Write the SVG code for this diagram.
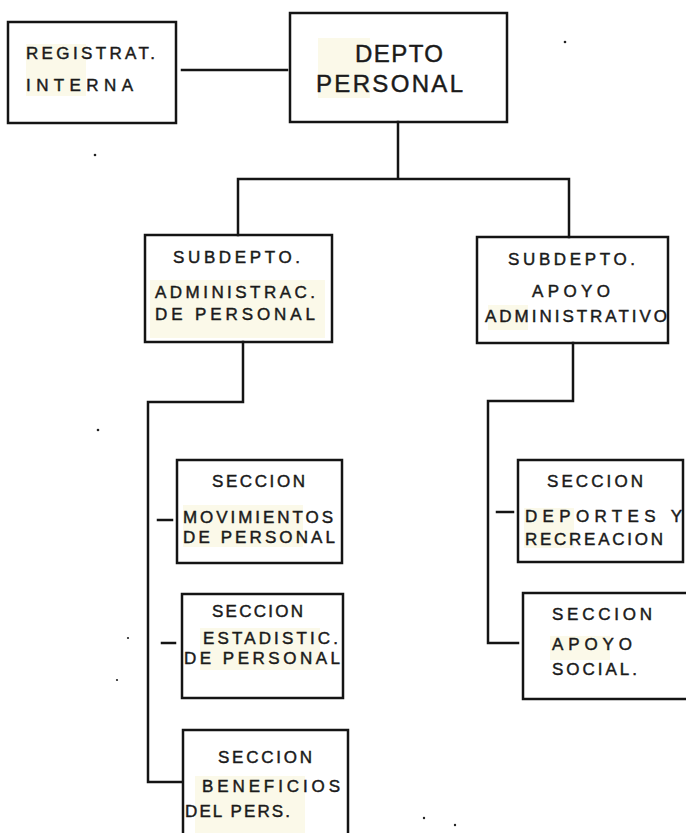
<svg xmlns="http://www.w3.org/2000/svg" width="686" height="833" viewBox="0 0 686 833">
  <style>
    .box { fill: none; stroke: #141414; stroke-width: 2.5; }
    .wire { fill: none; stroke: #141414; stroke-width: 2.5; stroke-linecap: square; }
    .t { font-family: "Liberation Sans", Arial, sans-serif; font-size: 17px; font-weight: normal; fill: #1a1a1a; stroke: #1a1a1a; stroke-width: 0.45; }
    .big { font-size: 24px; }
    .hl { fill: #f7f2cf; opacity: 0.45; }
    .speck { fill: #222; }
  </style>
  <rect width="686" height="833" fill="#ffffff"/>

  <!-- faint marker tint behind parts of the lettering -->
  <g id="tint">
    <rect class="hl" x="26" y="44" width="60" height="52"/>
    <rect class="hl" x="318" y="38" width="52" height="60"/>
    <rect class="hl" x="150" y="280" width="175" height="58"/>
    <rect class="hl" x="488" y="305" width="40" height="25"/>
    <rect class="hl" x="183" y="505" width="120" height="42"/>
    <rect class="hl" x="200" y="628" width="120" height="42"/>
    <rect class="hl" x="195" y="776" width="110" height="57"/>
    <rect class="hl" x="524" y="508" width="50" height="40"/>
    <rect class="hl" x="550" y="636" width="60" height="24"/>
  </g>

  <!-- connectors -->
  <g id="connectors">
    <path class="wire" d="M182 70 H287"/>
    <path class="wire" d="M398 122 V179 M238 179 H569 M238 179 V235 M569 179 V237"/>
    <path class="wire" d="M243 342 V402 H148 V782 H182"/>
    <path class="wire" d="M158 520 H172 M162 643 H175"/>
    <path class="wire" d="M573 343 V401 H488 V643 H518"/>
    <path class="wire" d="M497 512 H513"/>
  </g>

  <g id="registrat">
    <rect class="box" x="8" y="22" width="168" height="101"/>
    <text class="t" x="26" y="59" textLength="129" lengthAdjust="spacing">REGISTRAT.</text>
    <text class="t" x="26" y="91" textLength="107" lengthAdjust="spacing">INTERNA</text>
  </g>

  <g id="depto">
    <rect class="box" x="290" y="13" width="217" height="109"/>
    <text class="t big" x="355" y="62" textLength="88" lengthAdjust="spacing">DEPTO</text>
    <text class="t big" x="316" y="92" textLength="147" lengthAdjust="spacing">PERSONAL</text>
  </g>

  <g id="subdepto-admin">
    <rect class="box" x="145" y="235" width="187" height="107"/>
    <text class="t" x="173" y="263" textLength="127" lengthAdjust="spacing">SUBDEPTO.</text>
    <text class="t" x="155" y="298" textLength="160" lengthAdjust="spacing">ADMINISTRAC.</text>
    <text class="t" x="155" y="320" textLength="160" lengthAdjust="spacing">DE PERSONAL</text>
  </g>

  <g id="subdepto-apoyo">
    <rect class="box" x="477" y="237" width="191" height="106"/>
    <text class="t" x="508" y="265" textLength="127" lengthAdjust="spacing">SUBDEPTO.</text>
    <text class="t" x="532" y="297" textLength="78" lengthAdjust="spacing">APOYO</text>
    <text class="t" x="485" y="322" textLength="182" lengthAdjust="spacing">ADMINISTRATIVO</text>
  </g>

  <g id="sec-movimientos">
    <rect class="box" x="177" y="460" width="165" height="103"/>
    <text class="t" x="212" y="487" textLength="93" lengthAdjust="spacing">SECCION</text>
    <text class="t" x="183" y="523" textLength="150" lengthAdjust="spacing">MOVIMIENTOS</text>
    <text class="t" x="183" y="543" textLength="152" lengthAdjust="spacing">DE PERSONAL</text>
  </g>

  <g id="sec-estadistic">
    <rect class="box" x="182" y="594" width="161" height="104"/>
    <text class="t" x="212" y="617" textLength="91" lengthAdjust="spacing">SECCION</text>
    <text class="t" x="203" y="644" textLength="135" lengthAdjust="spacing">ESTADISTIC.</text>
    <text class="t" x="184" y="664" textLength="156" lengthAdjust="spacing">DE PERSONAL</text>
  </g>

  <g id="sec-beneficios">
    <path class="box" d="M183 840 V730 H348 V840"/>
    <text class="t" x="218" y="763" textLength="94" lengthAdjust="spacing">SECCION</text>
    <text class="t" x="202" y="792" textLength="138" lengthAdjust="spacing">BENEFICIOS</text>
    <text class="t" x="185" y="817" textLength="105" lengthAdjust="spacing">DEL PERS.</text>
  </g>

  <g id="sec-deportes">
    <rect class="box" x="518" y="460" width="165" height="102"/>
    <text class="t" x="547" y="487" textLength="96" lengthAdjust="spacing">SECCION</text>
    <text class="t" x="525" y="522" textLength="157" lengthAdjust="spacing">DEPORTES Y</text>
    <text class="t" x="525" y="545" textLength="138" lengthAdjust="spacing">RECREACION</text>
  </g>

  <g id="sec-apoyo-social">
    <path class="box" d="M690 593 H523 V699 H690"/>
    <text class="t" x="552" y="620" textLength="100" lengthAdjust="spacing">SECCION</text>
    <text class="t" x="552" y="650" textLength="80" lengthAdjust="spacing">APOYO</text>
    <text class="t" x="552" y="675" textLength="85" lengthAdjust="spacing">SOCIAL.</text>
  </g>

  <!-- stray specks -->
  <g id="specks">
    <circle class="speck" cx="95" cy="155" r="1.3"/>
    <circle class="speck" cx="565" cy="42" r="1.3"/>
    <circle class="speck" cx="98" cy="430" r="1.3"/>
    <circle class="speck" cx="128" cy="638" r="1.1"/>
    <circle class="speck" cx="117" cy="680" r="1.1"/>
    <circle class="speck" cx="424" cy="818" r="1.2"/>
    <circle class="speck" cx="455" cy="825" r="1.2"/>
  </g>
</svg>
